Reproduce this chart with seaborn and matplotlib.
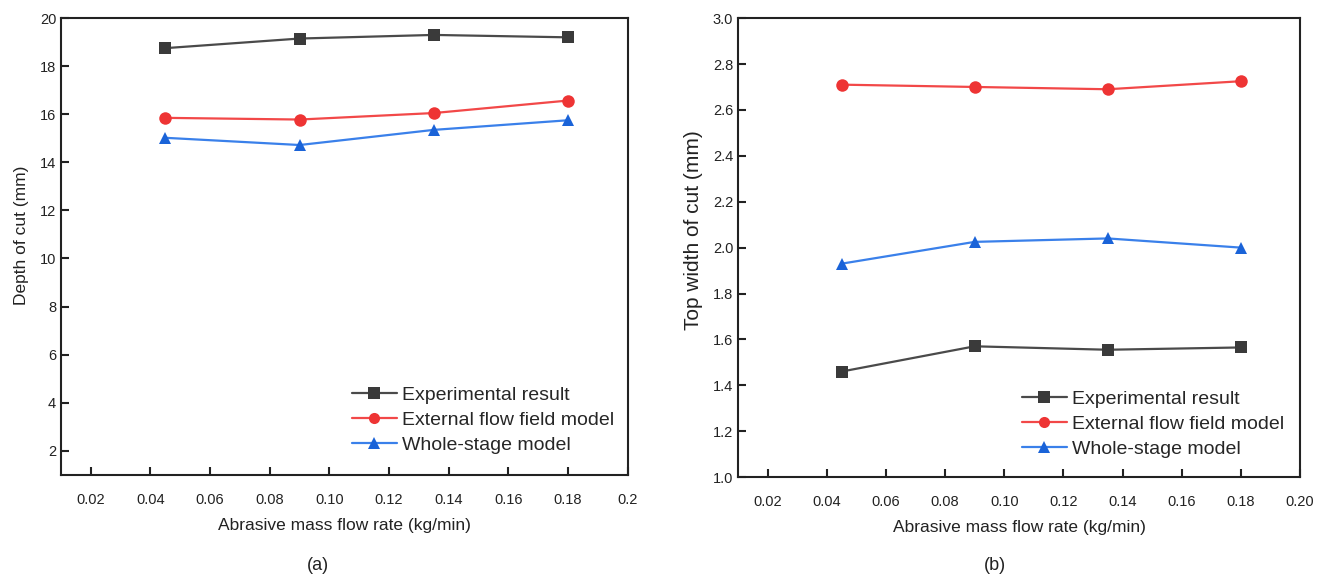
import matplotlib
matplotlib.use("Agg")
import matplotlib.pyplot as plt
import seaborn as sns
import pandas as pd

# Abrasive mass flow rate (kg/min)
flow_rate = [0.045, 0.09, 0.135, 0.18]

series_names = ["Experimental result", "External flow field model", "Whole-stage model"]

# (a) Depth of cut (mm)
depth_experimental = [18.75, 19.15, 19.30, 19.20]
depth_external = [15.85, 15.78, 16.05, 16.57]
depth_whole_stage = [15.02, 14.72, 15.35, 15.75]

# (b) Top width of cut (mm)
width_experimental = [1.46, 1.57, 1.555, 1.565]
width_external = [2.71, 2.70, 2.69, 2.725]
width_whole_stage = [1.93, 2.025, 2.04, 2.00]

x_ticks = [0.02, 0.04, 0.06, 0.08, 0.10, 0.12, 0.14, 0.16, 0.18, 0.20]
x_ticklabels_a = ["0.02", "0.04", "0.06", "0.08", "0.10", "0.12", "0.14", "0.16", "0.18", "0.2"]
x_ticklabels_b = ["0.02", "0.04", "0.06", "0.08", "0.10", "0.12", "0.14", "0.16", "0.18", "0.20"]
y_ticks_a = [2, 4, 6, 8, 10, 12, 14, 16, 18, 20]
y_ticks_b = [1.0, 1.2, 1.4, 1.6, 1.8, 2.0, 2.2, 2.4, 2.6, 2.8, 3.0]


def long_frame(values_by_series):
    rows = []
    for name, vals in zip(series_names, values_by_series):
        for x, y in zip(flow_rate, vals):
            rows.append({"rate": x, "value": y, "series": name})
    return pd.DataFrame(rows)


df_a = long_frame([depth_experimental, depth_external, depth_whole_stage])
df_b = long_frame([width_experimental, width_external, width_whole_stage])

sns.set_theme(style="white")
plt.rcParams["font.family"] = ["Liberation Sans", "DejaVu Sans"]

line_colors = {
    "Experimental result": "#4a4a4a",
    "External flow field model": "#f24848",
    "Whole-stage model": "#3a80ea",
}
marker_colors = ["#3a3a3a", "#ee3434", "#1a63d8"]
markers = {
    "Experimental result": "s",
    "External flow field model": "o",
    "Whole-stage model": "^",
}

fig = plt.figure(figsize=(13.38, 5.84), dpi=100)
ax_a = fig.add_axes([0.0456, 0.187, 0.4235, 0.782])
ax_b = fig.add_axes([0.5516, 0.183, 0.4200, 0.786])


def draw(ax, df, ylim, yticks, xticklabels, ylabel, ylabel_size, ylabel_xy, legend_anchor):
    sns.lineplot(data=df, x="rate", y="value", hue="series", style="series",
                 hue_order=series_names, style_order=series_names,
                 palette=line_colors, markers=markers, dashes=False,
                 markersize=9, linewidth=1.6, markeredgewidth=0, ax=ax)
    # darker marker faces on top of the lighter lines
    for line, mc in zip(ax.get_lines()[:3], marker_colors):
        line.set_markerfacecolor(mc)
        line.set_markeredgecolor(mc)
    ax.set_xlim(0.01, 0.20)
    ax.set_ylim(*ylim)
    ax.set_xticks(x_ticks)
    ax.set_xticklabels(xticklabels)
    ax.set_yticks(yticks)
    ax.set_yticklabels([f"{t:g}" if isinstance(t, int) else f"{t:.1f}" for t in yticks])
    ax.tick_params(axis="both", direction="in", length=6, width=1.5,
                   labelsize=10.5, colors="#222222", bottom=True, left=True)
    ax.tick_params(axis="x", pad=13)
    for sp in ax.spines.values():
        sp.set_linewidth(1.5)
        sp.set_color("#222222")
    ax.set_xlabel("Abrasive mass flow rate (kg/min)", fontsize=12.5, labelpad=8, color="#222222")
    ax.set_ylabel(ylabel, fontsize=ylabel_size, color="#222222")
    ax.yaxis.set_label_coords(*ylabel_xy)
    handles, labels = ax.get_legend_handles_labels()
    for h, mc in zip(handles, marker_colors):
        h.set_markerfacecolor(mc)
        h.set_markeredgecolor(mc)
        h.set_markersize(8)
    ax.legend(handles, labels, loc="lower right", bbox_to_anchor=legend_anchor,
              frameon=False, fontsize=14, handlelength=2.3, handletextpad=0.25,
              labelspacing=0.38, borderaxespad=0)


draw(ax_a, df_a, (1, 20), y_ticks_a, x_ticklabels_a, "Depth of cut (mm)", 12.5,
     (-0.0564, 0.525), (0.989, 0.028))
draw(ax_b, df_b, (1.0, 3.0), y_ticks_b, x_ticklabels_b, "Top width of cut (mm)", 15,
     (-0.0623, 0.538), (0.985, 0.025))

fig.text(318 / 1338, 1 - 566 / 584, "(a)", ha="center", va="center", fontsize=13, color="#222222")
fig.text(995 / 1338, 1 - 566 / 584, "(b)", ha="center", va="center", fontsize=13, color="#222222")

fig.savefig("out.png", dpi=100)
